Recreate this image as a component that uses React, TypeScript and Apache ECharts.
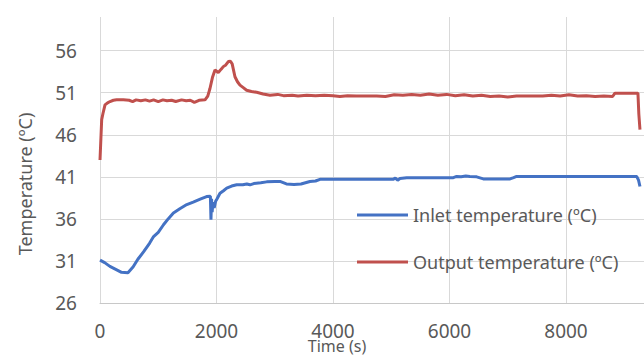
import React, { useEffect, useRef } from "react";
import * as echarts from "echarts";

const inletTime = [0, 80, 170, 270, 370, 480, 570, 650, 750, 850, 920, 1000, 1090, 1170, 1260, 1370, 1490, 1600, 1720, 1830, 1895, 1905, 1915, 1925, 1940, 1960, 1985, 2010, 2060, 2120, 2175, 2260, 2346, 2450, 2520, 2575, 2640, 2760, 2861, 3000, 3090, 3200, 3330, 3450, 3605, 3700, 3777, 4000, 4300, 4600, 4900, 5030, 5070, 5110, 5150, 5265, 5500, 5800, 6066, 6123, 6200, 6280, 6350, 6466, 6580, 6800, 7040, 7100, 7153, 7500, 8000, 8500, 9000, 9213, 9245, 9270];
const inletTemp = [31.1, 30.8, 30.35, 30.0, 29.65, 29.6, 30.3, 31.2, 32.1, 33.1, 33.9, 34.4, 35.3, 36.0, 36.7, 37.2, 37.7, 38.0, 38.35, 38.65, 38.7, 35.9, 38.4, 36.8, 38.0, 37.3, 38.1, 38.4, 39.05, 39.35, 39.65, 39.9, 40.05, 40.05, 40.15, 40.05, 40.2, 40.3, 40.4, 40.45, 40.45, 40.15, 40.1, 40.15, 40.45, 40.5, 40.7, 40.7, 40.7, 40.7, 40.7, 40.7, 40.85, 40.6, 40.8, 40.9, 40.9, 40.9, 40.9, 41.05, 41.0, 41.1, 41.05, 41.0, 40.75, 40.75, 40.75, 40.9, 41.05, 41.05, 41.05, 41.05, 41.05, 41.05, 40.6, 39.85];

const outletTime = [0, 15, 29, 50, 86, 130, 172, 230, 286, 400, 500, 560, 620, 700, 780, 850, 920, 1000, 1080, 1150, 1230, 1300, 1400, 1480, 1550, 1620, 1700, 1803, 1850, 1888, 1930, 1974, 2031, 2080, 2117, 2160, 2203, 2240, 2270, 2317, 2360, 2403, 2460, 2517, 2600, 2689, 2800, 2918, 3050, 3150, 3300, 3400, 3550, 3700, 3850, 4000, 4120, 4250, 4400, 4600, 4750, 4900, 5050, 5200, 5350, 5500, 5650, 5800, 5950, 6100, 6250, 6400, 6550, 6700, 6850, 7000, 7150, 7300, 7450, 7600, 7750, 7900, 8050, 8200, 8350, 8500, 8650, 8800, 8840, 9000, 9235, 9250, 9270];
const outletTemp = [43.0, 45.5, 47.8, 48.5, 49.55, 49.8, 49.95, 50.1, 50.15, 50.15, 50.1, 49.95, 50.15, 50.05, 50.15, 50.0, 50.15, 49.95, 50.15, 50.05, 50.1, 49.95, 50.15, 50.05, 50.1, 49.85, 50.1, 50.15, 50.6, 51.5, 52.8, 53.7, 53.4, 53.8, 54.1, 54.3, 54.7, 54.75, 54.4, 52.9, 52.3, 51.9, 51.6, 51.3, 51.15, 51.05, 50.85, 50.7, 50.8, 50.65, 50.7, 50.6, 50.7, 50.65, 50.7, 50.65, 50.55, 50.65, 50.6, 50.6, 50.6, 50.55, 50.75, 50.7, 50.8, 50.7, 50.85, 50.7, 50.8, 50.65, 50.75, 50.6, 50.7, 50.55, 50.6, 50.5, 50.6, 50.6, 50.6, 50.6, 50.7, 50.6, 50.75, 50.6, 50.65, 50.55, 50.6, 50.55, 50.95, 50.95, 50.95, 48.5, 46.6];

const seriesNames = ["Inlet temperature (ºC)", "Output temperature (ºC)"];
const xTitle = "Time (s)";
const yTitle = "Temperature (ºC)";

const FONT = "'Noto Sans', sans-serif";
const TEXT = "#595959";

export default function App() {
  const ref = useRef<HTMLDivElement>(null);
  useEffect(() => {
    document.body.style.margin = "0";
    const chart = echarts.init(ref.current!, null, { renderer: "svg" });
    const inlet = inletTime.map((t, i) => [t, inletTemp[i]]);
    const outlet = outletTime.map((t, i) => [t, outletTemp[i]]);
    chart.setOption({
      animation: false,
      backgroundColor: "#ffffff",
      grid: { left: 100, right: -38.5, top: 17, bottom: 53, containLabel: false, outerBoundsMode: "none" },
      xAxis: {
        type: "value",
        min: 0,
        max: 10000,
        interval: 2000,
        axisLine: { show: true, lineStyle: { color: "#c8c8c8", width: 1 } },
        axisTick: { show: false },
        axisLabel: {
          color: TEXT,
          fontFamily: FONT,
          fontSize: 19,
          margin: 18,
          showMaxLabel: false,
          formatter: (v: number) => String(v),
        },
        splitLine: { show: true, lineStyle: { color: "#d9d9d9", width: 1 } },
      },
      yAxis: {
        type: "value",
        min: 26,
        max: 60,
        interval: 5,
        axisLine: { show: false },
        axisTick: { show: false },
        axisLabel: { color: TEXT, fontFamily: FONT, fontSize: 19, margin: 23, showMaxLabel: false },
        splitLine: { show: true, showMaxLine: false, lineStyle: { color: "#d9d9d9", width: 1 } },
      },
      legend: {
        orient: "vertical",
        left: 357,
        top: 204,
        padding: 0,
        icon: "rect",
        itemWidth: 51,
        itemHeight: 3,
        itemGap: 25,
        textStyle: { color: TEXT, fontFamily: FONT, fontSize: 18, lineHeight: 22 },
        data: seriesNames,
      },
      graphic: [
        {
          type: "text",
          x: 25,
          y: 184,
          rotation: Math.PI / 2,
          style: { text: yTitle, fill: TEXT, font: `18px ${FONT}`, align: "center", verticalAlign: "middle" },
        },
        {
          type: "text",
          x: 337,
          y: 346,
          style: { text: xTitle, fill: TEXT, font: `16px ${FONT}`, align: "center", verticalAlign: "middle" },
        },
      ],
      series: [
        {
          name: seriesNames[0],
          type: "line",
          data: inlet,
          symbol: "none",
          lineStyle: { color: "#4472c4", width: 3 },
          itemStyle: { color: "#4472c4" },
        },
        {
          name: seriesNames[1],
          type: "line",
          data: outlet,
          symbol: "none",
          lineStyle: { color: "#c0504d", width: 3 },
          itemStyle: { color: "#c0504d" },
        },
      ],
    });
    return () => chart.dispose();
  }, []);
  return <div ref={ref} style={{ width: 644, height: 356 }} />;
}
